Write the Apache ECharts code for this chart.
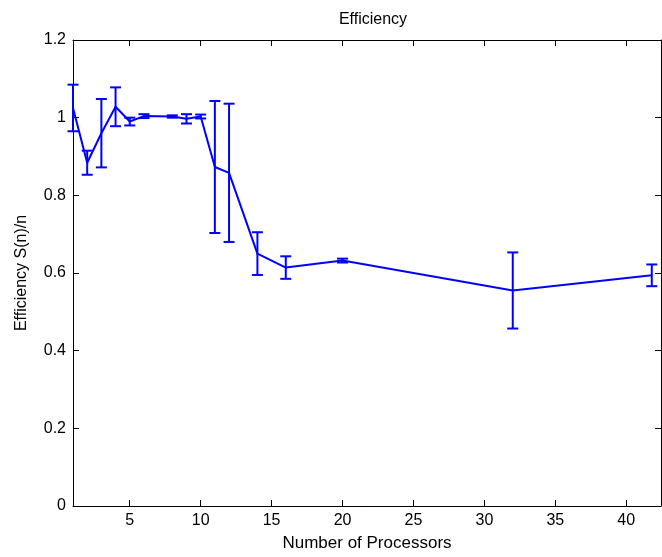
<!DOCTYPE html>
<html>
<head>
<meta charset="utf-8">
<script src="https://cdn.jsdelivr.net/npm/echarts@6/dist/echarts.min.js"></script>
<style>html,body{margin:0;padding:0;background:#fff;}#c{width:662px;height:557px;}</style>
</head>
<body>
<div id="c"></div>
<script>
var processors = [1, 2, 3, 4, 5, 6, 8, 9, 10, 11, 12, 14, 16, 20, 32, 41.8];
var efficiency = [1.025, 0.884, 0.96, 1.028, 0.99, 1.004, 1.003, 0.997, 1.003, 0.873, 0.858, 0.650, 0.614, 0.632, 0.555, 0.594];
var errors = [0.06, 0.031, 0.088, 0.05, 0.01, 0.005, 0.003, 0.012, 0.005, 0.17, 0.178, 0.055, 0.029, 0.005, 0.098, 0.028];
var xTicks = [5, 10, 15, 20, 25, 30, 35, 40];
var titleText = 'Efficiency';
var xName = 'Number of Processors';
var yName = 'Efficiency S(n)/n';

var font = '"Liberation Sans", Arial, Helvetica, sans-serif';
var lineData = processors.map(function (x, i) { return [x, efficiency[i]]; });
var errData = processors.map(function (x, i) { return [x, efficiency[i] - errors[i], efficiency[i] + errors[i]]; });

var chart = echarts.init(document.getElementById('c'), null, { renderer: 'canvas' });
var axisLineStyle = { color: '#000', width: 1 };
chart.setOption({
  animation: false,
  backgroundColor: '#fff',
  title: {
    text: titleText, left: 368, top: 7, textAlign: 'center',
    textStyle: { fontFamily: font, fontSize: 16, fontWeight: 'normal', color: '#000' }
  },
  grid: { left: 73, right: 1, top: 40, bottom: 50, containLabel: false },
  xAxis: [{
    type: 'value', min: 1, max: 42.45, position: 'bottom',
    name: xName, nameLocation: 'middle', nameGap: 29,
    nameTextStyle: { fontFamily: font, fontSize: 17, color: '#000' },
    axisLine: { show: true, onZero: false, lineStyle: axisLineStyle },
    axisTick: { show: true, inside: true, length: 6, lineStyle: axisLineStyle, customValues: xTicks },
    axisLabel: { show: true, fontFamily: font, fontSize: 16, color: '#000', margin: 7, customValues: xTicks },
    splitLine: { show: false }
  }, {
    type: 'value', min: 1, max: 42.45, position: 'top',
    axisLine: { show: true, onZero: false, lineStyle: axisLineStyle },
    axisTick: { show: true, inside: true, length: 6, lineStyle: axisLineStyle, customValues: xTicks },
    axisLabel: { show: false },
    splitLine: { show: false }
  }],
  yAxis: [{
    type: 'value', min: 0, max: 1.2, interval: 0.2, position: 'left',
    name: yName, nameLocation: 'middle', nameGap: 43, nameRotate: 90,
    nameTextStyle: { fontFamily: font, fontSize: 16, color: '#000' },
    axisLine: { show: true, onZero: false, lineStyle: axisLineStyle },
    axisTick: { show: true, inside: true, length: 6, lineStyle: axisLineStyle },
    axisLabel: { show: true, fontFamily: font, fontSize: 16, color: '#000', margin: 7,
      formatter: function (v) { return String(Math.round(v * 10) / 10); } },
    splitLine: { show: false }
  }, {
    type: 'value', min: 0, max: 1.2, interval: 0.2, position: 'right',
    axisLine: { show: true, onZero: false, lineStyle: axisLineStyle },
    axisTick: { show: true, inside: true, length: 6, lineStyle: axisLineStyle },
    axisLabel: { show: false },
    splitLine: { show: false }
  }],
  series: [{
    type: 'line', data: lineData, xAxisIndex: 0, yAxisIndex: 0,
    symbol: 'none', lineStyle: { color: '#0000ff', width: 2 }, z: 3
  }, {
    type: 'custom', data: errData, xAxisIndex: 0, yAxisIndex: 0, z: 4,
    renderItem: function (params, api) {
      var x = api.value(0);
      var lo = api.coord([x, api.value(1)]);
      var hi = api.coord([x, api.value(2)]);
      var hw = 5.5;
      var style = { stroke: '#0000ff', lineWidth: 2 };
      return {
        type: 'group',
        children: [
          { type: 'line', shape: { x1: lo[0], y1: lo[1], x2: hi[0], y2: hi[1] }, style: style },
          { type: 'line', shape: { x1: lo[0] - hw, y1: lo[1], x2: lo[0] + hw, y2: lo[1] }, style: style },
          { type: 'line', shape: { x1: hi[0] - hw, y1: hi[1], x2: hi[0] + hw, y2: hi[1] }, style: style }
        ]
      };
    }
  }]
});
</script>
</body>
</html>
